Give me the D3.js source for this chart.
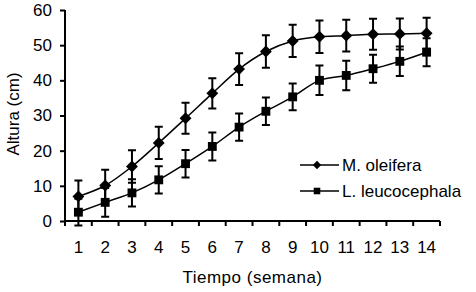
<!DOCTYPE html>
<html>
<head>
<meta charset="utf-8">
<script src="https://cdn.jsdelivr.net/npm/d3@7"></script>
<style>
  body { margin: 0; background: #fff; }
  text { font-family: "Liberation Sans", Arial, sans-serif; fill: #000; }
  .eje path, .eje line { stroke: #000; stroke-width: 2px; }
  .eje text { font-size: 17px; }
</style>
</head>
<body>
<div id="graf"></div>
<script>
// Datos (semanas, altura media y desviacion)
semanas = [1, 2, 3, 4, 5, 6, 7, 8, 9, 10, 11, 12, 13, 14]
oleifera = [7, 10.1, 15.5, 22.2, 29.2, 36.3, 43.2, 48.2, 51.2, 52.4, 52.7, 53.1, 53.2, 53.4]
oleiferaErr = [4.5, 4.5, 4.6, 4.6, 4.4, 4.3, 4.5, 4.6, 4.6, 4.6, 4.5, 4.4, 4.4, 4.4]
leucocephala = [2.5, 5.3, 8, 11.7, 16.3, 21.2, 26.7, 31.2, 35.3, 40, 41.4, 43.3, 45.4, 48]
leucocephalaErr = [3.8, 4.1, 3.9, 3.9, 3.9, 4, 3.9, 3.9, 3.8, 4.2, 4.2, 4, 4.2, 4]
yTicks = [0, 10, 20, 30, 40, 50, 60]

series = [
  {nombre: 'M. oleifera', valores: oleifera, err: oleiferaErr, marca: d3.symbolDiamond2, tam: 90, tamLeyenda: 45},
  {nombre: 'L. leucocephala', valores: leucocephala, err: leucocephalaErr, marca: d3.symbolSquare2, tam: 100, tamLeyenda: 55}
]

ancho_total = 476
alto_total = 292
margins = {top: 10, left: 65, right: 36, bottom: 71}
ancho = ancho_total - margins.left - margins.right
alto = alto_total - margins.top - margins.bottom

svg = d3.select('#graf').append('svg')
        .attr('width', ancho_total)
        .attr('height', alto_total)

g = svg.append('g')
       .attr('transform', `translate(${margins.left}, ${margins.top})`)

// -- Escaladores --
x = d3.scaleBand()
      .domain(semanas)
      .range([0, ancho])

y = d3.scaleLinear()
      .domain([0, 60])
      .range([alto, 0])

// -- Ejes --
xAxisGroup = g.append('g')
              .attr('class', 'eje')
              .attr('transform', `translate(0, ${alto})`)
              .call(d3.axisBottom(x).tickSize(0).tickPadding(20))
xAxisGroup.selectAll('.tick-sep')
          .data(d3.range(semanas.length + 1))
          .enter()
          .append('line')
          .attr('x1', i => i * x.step())
          .attr('x2', i => i * x.step())
          .attr('y1', 0)
          .attr('y2', 5)

yAxisGroup = g.append('g')
              .attr('class', 'eje')
              .call(d3.axisLeft(y).tickValues(yTicks).tickSize(5).tickPadding(8))
xAxisGroup.select('.domain').attr('d', `M0,0H${ancho}`)
yAxisGroup.select('.domain').attr('d', `M0,0V${alto}`)

// -- Series --
cx = d => x(d) + x.bandwidth() / 2

series.forEach(s => {
  linea = d3.line()
            .x((d, i) => cx(semanas[i]))
            .y(d => y(d))
            .curve(d3.curveMonotoneX)
  g.append('path')
   .datum(s.valores)
   .attr('d', linea)
   .attr('fill', 'none')
   .attr('stroke', '#000')
   .attr('stroke-width', 1.5)

  barras = g.append('g')
  barras.selectAll('g')
        .data(s.valores)
        .enter()
        .append('path')
        .attr('d', (d, i) => {
          xc = cx(semanas[i])
          y0 = y(d - s.err[i])
          y1 = y(d + s.err[i])
          return `M${xc - 4},${y1}H${xc + 4}M${xc},${y1}V${y0}M${xc - 4},${y0}H${xc + 4}`
        })
        .attr('fill', 'none')
        .attr('stroke', '#000')
        .attr('stroke-width', 2)

  g.append('g')
   .selectAll('path')
   .data(s.valores)
   .enter()
   .append('path')
   .attr('transform', (d, i) => `translate(${cx(semanas[i])}, ${y(d)})`)
   .attr('d', d3.symbol().type(s.marca).size(s.tam))
   .attr('fill', '#000')
})

// -- Leyenda --
leyenda = svg.append('g')
             .attr('transform', 'translate(300, 165)')
series.forEach((s, i) => {
  fila = leyenda.append('g')
                .attr('transform', `translate(0, ${i * 26})`)
  fila.append('line')
      .attr('x1', 0).attr('x2', 39)
      .attr('stroke', '#000')
      .attr('stroke-width', 1.5)
  fila.append('path')
      .attr('transform', 'translate(17, 0)')
      .attr('d', d3.symbol().type(s.marca).size(s.tamLeyenda))
      .attr('fill', '#000')
  fila.append('text')
      .attr('x', 42)
      .attr('y', 6)
      .style('font-size', '17px')
      .text(s.nombre)
})

// -- Titulos --
svg.append('text')
   .attr('x', margins.left + ancho / 2)
   .attr('y', 283)
   .attr('text-anchor', 'middle')
   .style('font-size', '17px')
   .style('letter-spacing', '0.5px')
   .text('Tiempo (semana)')

svg.append('text')
   .attr('transform', `translate(19, 114) rotate(-90)`)
   .attr('text-anchor', 'middle')
   .style('font-size', '17px')
   .text('Altura (cm)')
</script>
</body>
</html>
